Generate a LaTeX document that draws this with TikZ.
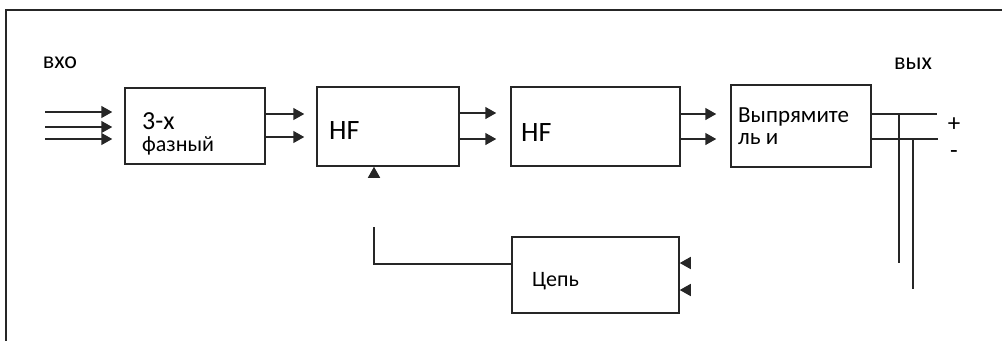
\documentclass[tikz,border=0pt]{standalone}
\usepackage{fontspec}
\setmainfont{Carlito}
\usetikzlibrary{arrows.meta}
\begin{document}
\begin{tikzpicture}[x=1pt,y=-1pt,
  ln/.style={line width=1.5pt, draw=black!85},
  box/.style={ln, rectangle, inner sep=0pt},
  arr/.style={ln, -{Triangle[length=11pt,width=12pt]}},
  lbl/.style={anchor=base west, inner sep=0pt, font=\fontsize{23}{26}\selectfont},
  big/.style={anchor=base west, inner sep=0pt, font=\fontsize{28}{30}\selectfont}]
\useasboundingbox (0,0) rectangle (1002,341);
\draw[ln] (1002,10) -- (6,10) -- (6,341);
% boxes
\node[box, minimum width=140pt, minimum height=76pt] (b1) at (195,126) {};
\node[box, minimum width=142pt, minimum height=79pt] (b2) at (388,126.5) {};
\node[box, minimum width=169pt, minimum height=79pt] (b3) at (595.5,126.5) {};
\node[box, minimum width=140pt, minimum height=82pt] (b4) at (801,126) {};
\node[box, minimum width=167pt, minimum height=76pt] (b5) at (595.5,275) {};
% texts
\node[lbl, font=\fontsize{26}{28}\selectfont] (t1a) at (142,129) {3-х};
\node[lbl, font=\fontsize{22}{24}\selectfont] (t1b) at (142,151.5) {фазный};
\node[big] (t2) at (329,139) {HF};
\node[big] (t3) at (521,141) {HF};
\node[lbl] (t4a) at (738,122) {Выпрямите};
\node[lbl] (t4b) at (738,144) {ль и};
\node[lbl, font=\fontsize{22}{24}\selectfont] (t5) at (532,286) {Цепь};
\node[lbl, font=\fontsize{24}{26}\selectfont, anchor=base] (vin) at (60,68) {вхо};
\node[lbl, font=\fontsize{24}{26}\selectfont, anchor=base] (vout) at (913,69) {вых};
\node[lbl, font=\fontsize{25}{26}\selectfont, anchor=base] (plus) at (954,131) {+};
\node[lbl, font=\fontsize{25}{26}\selectfont, anchor=base] (minus) at (954,158) {-};
% inputs
\coordinate (i1) at (45,112);
\coordinate (i2) at (45,127);
\coordinate (i3) at (45,139);
\foreach \c in {i1,i2,i3}
  \draw[arr] (\c) -- ([xshift=-12pt]b1.west |- \c);
% b1 -> b2
\draw[arr] (b1.east |- 0,114) -- ([xshift=-12pt]b2.west |- 0,114);
\draw[arr] (b1.east |- 0,137) -- ([xshift=-12pt]b2.west |- 0,137);
% b2 -> b3
\draw[arr] (b2.east |- 0,113) -- ([xshift=-14pt]b3.west |- 0,113);
\draw[arr] (b2.east |- 0,139) -- ([xshift=-14pt]b3.west |- 0,139);
% b3 -> b4
\draw[arr] (b3.east |- 0,114) -- ([xshift=-14pt]b4.west |- 0,114);
\draw[arr] (b3.east |- 0,139) -- ([xshift=-14pt]b4.west |- 0,139);
% outputs
\coordinate (o1) at (937,114);
\coordinate (o2) at (938,139);
\coordinate (v1) at (899,263);
\coordinate (v2) at (913,289);
\draw[ln] (b4.east |- o1) -- (o1);
\draw[ln] (b4.east |- o2) -- (o2);
\draw[ln] (v1 |- o1) -- (v1);
\draw[ln] (v2 |- o2) -- (v2);
% feedback
\coordinate (fb) at (374,227);
\draw[arr] (374,178) -- (b2.south -| 374,0);
\draw[ln] (fb) -- (374,264) -- (b5.west |- 0,264);
\draw[arr] (690,263) -- (b5.east |- 0,263);
\draw[arr] (690,290) -- (b5.east |- 0,290);
\end{tikzpicture}
\end{document}
